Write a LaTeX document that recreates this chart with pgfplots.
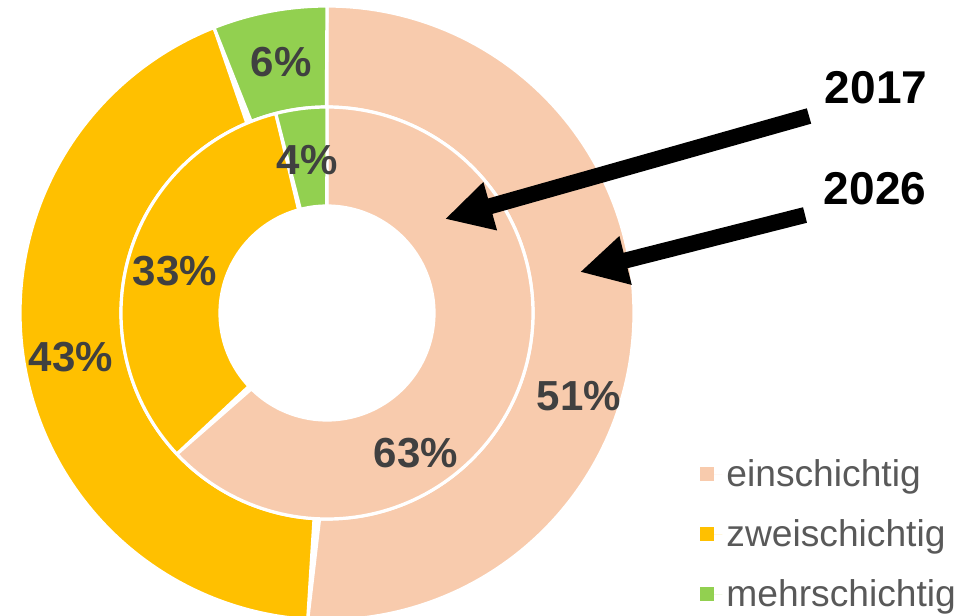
\documentclass[border=0pt]{standalone}
\usepackage{pgfplots}
\pgfplotsset{compat=1.18}
\usepackage{fontspec}
\setmainfont{Liberation Sans}
\usetikzlibrary{arrows.meta}
\definecolor{peach}{HTML}{F8CBAD}
\definecolor{gold}{HTML}{FFC000}
\definecolor{leaf}{HTML}{92D050}
\definecolor{lab}{HTML}{404040}
\definecolor{legtxt}{HTML}{595959}
% ring segment: color, start (%), share (%), inner radius, outer radius  (centre 327,313 in px)
\newcommand{\ringseg}[5]{%
  \addplot[forget plot, fill=#1, draw=white, line width=1.6pt, line join=round,
    domain=0:1, samples=241, variable=\t]
  ({327 + ((#4) + ((#5)-(#4))*(\t<0.5))*sin(3.6*((#2) + (#3)*(1-abs(2*\t-1))))},
   {313 - ((#4) + ((#5)-(#4))*(\t<0.5))*cos(3.6*((#2) + (#3)*(1-abs(2*\t-1))))}) -- cycle;
}
\begin{document}
\begin{tikzpicture}
\begin{axis}[
  width=489pt, height=307.5pt, scale only axis,
  xmin=0, xmax=978, ymin=0, ymax=615, y dir=reverse,
  hide axis, clip=true,
  legend style={at={(axis cs:700,455)}, anchor=north west, draw=none, fill=none,
    font=\fontsize{18.6}{18.6}\selectfont, text=legtxt, row sep=11pt,
    inner sep=0pt, cells={anchor=west}},
  legend cell align=left,
  legend image code/.code={\fill[#1] (0pt,-3.5pt) rectangle (7pt,3.5pt); \path (0pt,0pt) -- (11pt,0pt);},
]
% outer ring: 2026
\ringseg{peach}{0}{51}{206}{307}
\ringseg{gold}{51}{43}{206}{307}
\ringseg{leaf}{94}{6}{206}{307}
% inner ring: 2017
\ringseg{peach}{0}{63}{107}{206}
\ringseg{gold}{63}{33}{107}{206}
\ringseg{leaf}{96}{4}{107}{206}

\addlegendimage{fill=peach, draw=none}
\addlegendentry{einschichtig}
\addlegendimage{fill=gold, draw=none}
\addlegendentry{zweischichtig}
\addlegendimage{fill=leaf, draw=none}
\addlegendentry{mehrschichtig}

\begin{scope}[every node/.style={font=\fontsize{21}{21}\selectfont\bfseries, text=lab, inner sep=0pt}]
\node at (axis cs:281,62) {6\%};
\node at (axis cs:307,160) {4\%};
\node at (axis cs:175,271) {33\%};
\node at (axis cs:71,357) {43\%};
\node at (axis cs:579,396) {51\%};
\node at (axis cs:416,453) {63\%};
\end{scope}

\draw[line width=8pt, -{Triangle[length=23.5pt,width=23.5pt]}] (axis cs:809,116) -- (axis cs:445,219);
\draw[line width=8pt, -{Triangle[length=23.5pt,width=23.5pt]}] (axis cs:805,215) -- (axis cs:580,272);

\node[font=\fontsize{23}{23}\selectfont\bfseries, inner sep=0pt] at (axis cs:876,88) {2017};
\node[font=\fontsize{23}{23}\selectfont\bfseries, inner sep=0pt] at (axis cs:875,189) {2026};
\end{axis}
\pgfresetboundingbox
\useasboundingbox (current axis.south west) rectangle (current axis.north east);
\end{tikzpicture}
\end{document}
